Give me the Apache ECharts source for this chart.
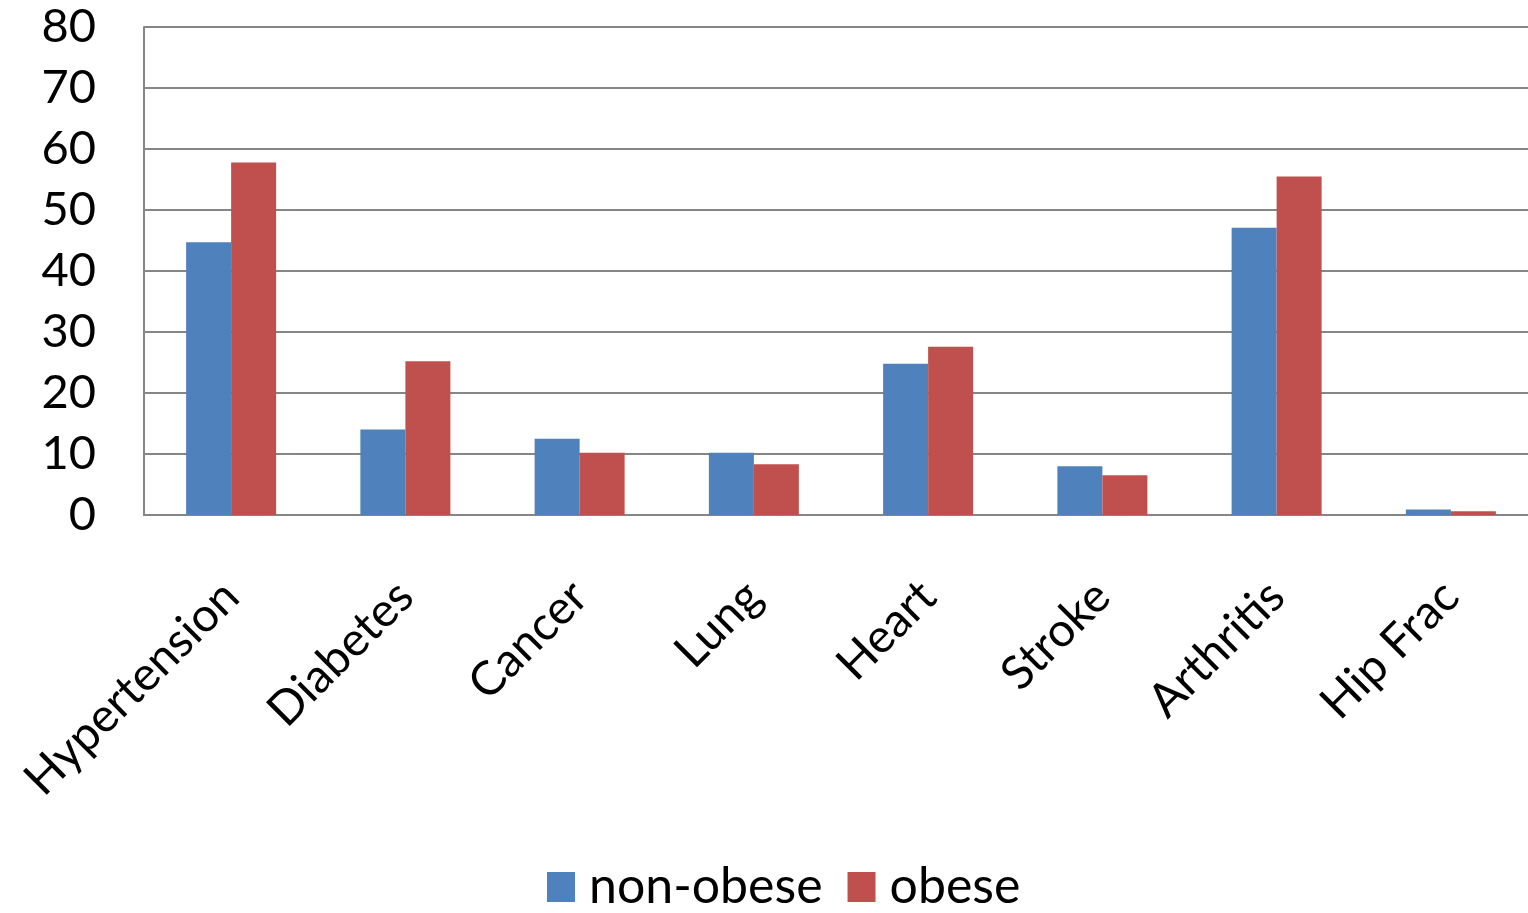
<!DOCTYPE html>
<html>
<head>
<meta charset="utf-8">
<script src="https://cdn.jsdelivr.net/npm/echarts@6/dist/echarts.min.js"></script>
<style>
html,body{margin:0;padding:0;background:#fff;overflow:hidden;}
#chart{width:1538px;height:913px;}
</style>
</head>
<body>
<div id="chart"></div>
<script>
const categories = ['Hypertension','Diabetes','Cancer','Lung','Heart','Stroke','Arthritis','Hip Frac'];
const nonObese = [44.7, 14.0, 12.5, 10.2, 24.8, 8.0, 47.1, 0.9];
const obese = [57.8, 25.2, 10.2, 8.3, 27.6, 6.5, 55.5, 0.6];
const yTicks = [0, 10, 20, 30, 40, 50, 60, 70, 80];

const FONT = 'Lato';
const chart = echarts.init(document.getElementById('chart'), null, {renderer: 'canvas'});
chart.setOption({
  animation: false,
  backgroundColor: '#ffffff',
  color: ['#4F81BD', '#C0504D'],
  grid: {left: 144, top: 27, right: 0, height: 488, containLabel: false},
  legend: {
    data: ['non-obese', 'obese'],
    top: 860,
    left: 547,
    padding: 0,
    itemWidth: 28,
    itemHeight: 30,
    itemGap: 25,
    icon: 'rect',
    textStyle: {fontFamily: FONT, fontSize: 50, lineHeight: 54, color: '#000', padding: [0, 0, 0, 9]}
  },
  xAxis: {
    type: 'category',
    data: categories,
    axisLine: {show: true, lineStyle: {color: '#868686', width: 2}},
    axisTick: {show: false},
    axisLabel: {rotate: 45, margin: 74, fontFamily: FONT, fontSize: 47, color: '#000', interval: 0}
  },
  yAxis: {
    type: 'value',
    min: yTicks[0],
    max: yTicks[yTicks.length - 1],
    interval: 10,
    axisLine: {show: true, lineStyle: {color: '#868686', width: 2}},
    axisTick: {show: false},
    axisLabel: {margin: 48, fontFamily: FONT, fontSize: 47, color: '#000'},
    splitLine: {show: true, lineStyle: {color: '#868686', width: 2}}
  },
  series: [
    {name: 'non-obese', type: 'bar', data: nonObese, barWidth: 45, barGap: '0%'},
    {name: 'obese', type: 'bar', data: obese, barWidth: 45, barGap: '0%'}
  ]
});
</script>
</body>
</html>
